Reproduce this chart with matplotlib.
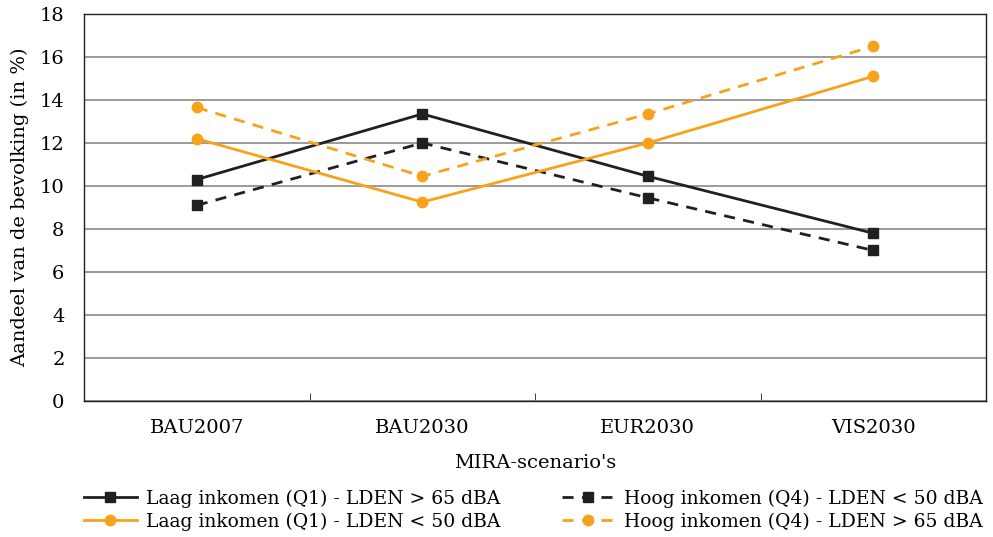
"""MIRA-scenario's: aandeel van de bevolking per inkomensgroep en geluidsbelasting."""

import matplotlib

matplotlib.use("Agg")
import matplotlib.pyplot as plt
from matplotlib.ticker import FixedLocator, MultipleLocator

BLACK = "#231f20"
ORANGE = "#f7a21b"

scenarios = ["BAU2007", "BAU2030", "EUR2030", "VIS2030"]
laag_q1_boven_65 = [10.3, 13.35, 10.45, 7.8]
hoog_q4_onder_50 = [9.1, 12.0, 9.45, 7.0]
laag_q1_onder_50 = [12.2, 9.25, 12.0, 15.1]
hoog_q4_boven_65 = [13.65, 10.45, 13.35, 16.5]

labels = [
    "Laag inkomen (Q1) - LDEN > 65 dBA",
    "Hoog inkomen (Q4) - LDEN < 50 dBA",
    "Laag inkomen (Q1) - LDEN < 50 dBA",
    "Hoog inkomen (Q4) - LDEN > 65 dBA",
]

plt.rcParams["font.family"] = ["DejaVu Serif"]
plt.rcParams["font.size"] = 14

fig = plt.figure(figsize=(9.93, 5.37), dpi=100)
ax = fig.add_axes([0.0846, 0.2533, 0.9084, 0.7207])

x = list(range(len(scenarios)))
series = [
    (laag_q1_boven_65, BLACK, "-", "s"),
    (hoog_q4_onder_50, BLACK, "--", "s"),
    (laag_q1_onder_50, ORANGE, "-", "o"),
    (hoog_q4_boven_65, ORANGE, "--", "o"),
]
handles = []
for (values, color, style, marker), label in zip(series, labels):
    kwargs = {"dashes": (4, 3)} if style == "--" else {}
    (line,) = ax.plot(
        x, values, color=color, linestyle=style, linewidth=2,
        marker=marker, markersize=7.5, label=label, **kwargs,
    )
    handles.append(line)

ax.set_xlim(-0.5, len(scenarios) - 0.5)
ax.set_ylim(0, 18)
ax.yaxis.set_major_locator(MultipleLocator(2))
ax.set_xticks(x)
ax.set_xticklabels(scenarios)
ax.xaxis.set_minor_locator(FixedLocator([0.5, 1.5, 2.5]))
ax.tick_params(axis="x", which="major", length=0, pad=13)
ax.tick_params(axis="x", which="minor", length=6, direction="in", color=BLACK)
ax.tick_params(axis="y", length=0, pad=14)
ax.grid(axis="y", color="#8a8a8a", linewidth=1.2)
ax.set_axisbelow(True)
for spine in ax.spines.values():
    spine.set_color(BLACK)
    spine.set_linewidth(1.0)

ax.set_xlabel("MIRA-scenario's", labelpad=12)
ax.set_ylabel("Aandeel van de bevolking (in %)", labelpad=8)

# row-wise order: matplotlib fills legend columns first
order = [0, 2, 1, 3]
fig.legend(
    [handles[i] for i in order], [labels[i] for i in order],
    loc="lower left", bbox_to_anchor=(0.0846, 0.012), ncol=2,
    frameon=False, borderpad=0, borderaxespad=0,
    handlelength=2.8, columnspacing=3.3, labelspacing=0.25,
    handletextpad=0.5, fontsize=13.5,
)

fig.savefig("out.png", dpi=100)
